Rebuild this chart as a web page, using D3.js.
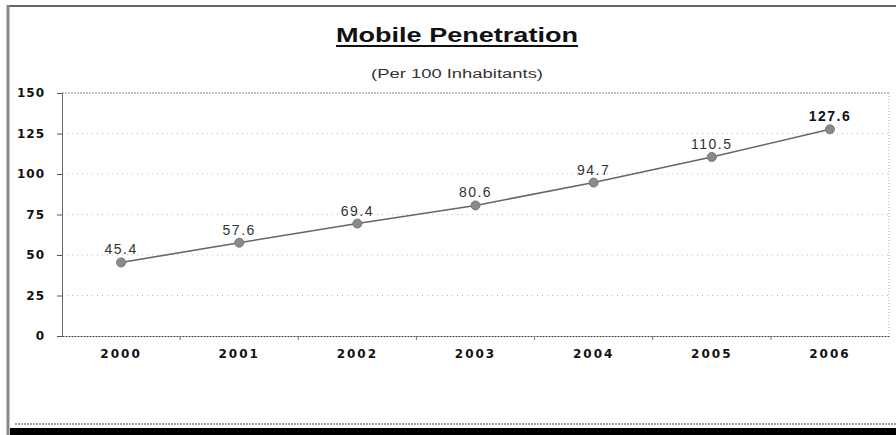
<!DOCTYPE html>
<html>
<head>
<meta charset="utf-8">
<script src="https://cdn.jsdelivr.net/npm/d3@7"></script>
<style>
  html, body { margin: 0; padding: 0; background: #fff; }
  svg { display: block; }
</style>
</head>
<body>
<svg id="chart" width="896" height="435"></svg>
<script>
// Mobile penetration per 100 inhabitants
const years = ["2000", "2001", "2002", "2003", "2004", "2005", "2006"];
const penetration = [45.4, 57.6, 69.4, 80.6, 94.7, 110.5, 127.6];
const yTicks = [0, 25, 50, 75, 100, 125, 150];
const titleText = "Mobile Penetration";
const subtitleText = "(Per 100 Inhabitants)";

const W = 896, H = 435;
const plot = { left: 62, right: 889, top: 93, bottom: 336 };
const sans = "Arial, 'Liberation Sans', sans-serif";
const wide = "'DejaVu Sans', Verdana, sans-serif";

const svg = d3.select("#chart");

// outer frame
svg.append("line").attr("x1", 8).attr("x2", W).attr("y1", 6).attr("y2", 6)
  .attr("stroke", "#333").attr("stroke-width", 1.5);
svg.append("line").attr("x1", 8).attr("x2", 8).attr("y1", 5).attr("y2", H)
  .attr("stroke", "#888").attr("stroke-width", 3);
svg.append("line").attr("x1", 15).attr("x2", W).attr("y1", 424).attr("y2", 424)
  .attr("stroke", "#444").attr("stroke-width", 1).attr("stroke-dasharray", "2,1");
svg.append("rect").attr("x", 10).attr("y", 428).attr("width", W - 10).attr("height", 7)
  .attr("fill", "#000");

// scales
const x = d3.scaleBand().domain(years).range([plot.left, plot.right]);
const y = d3.scaleLinear().domain([0, 150]).range([plot.bottom, plot.top]);

// gridlines
svg.append("g").selectAll("line").data(yTicks.filter(t => t > 0)).join("line")
  .attr("x1", plot.left).attr("x2", plot.right)
  .attr("y1", d => y(d)).attr("y2", d => y(d))
  .attr("stroke", d => d === 150 ? "#888" : "#bbb")
  .attr("stroke-width", 1)
  .attr("stroke-dasharray", d => d === 150 ? "2,1" : "1,4");

// right plot edge
svg.append("line").attr("x1", plot.right).attr("x2", plot.right)
  .attr("y1", plot.top).attr("y2", plot.bottom)
  .attr("stroke", "#aaa").attr("stroke-dasharray", "1,2");

// y axis
const yAxis = svg.append("g").attr("transform", `translate(${plot.left},0)`)
  .call(d3.axisLeft(y).tickValues(yTicks).tickSize(5).tickPadding(12));
yAxis.select(".domain").attr("stroke", "#666").attr("stroke-width", 1);
yAxis.selectAll(".tick line").attr("stroke", "#555");
yAxis.selectAll("text").attr("font-family", wide)
  .attr("font-size", 12).attr("font-weight", "bold").attr("fill", "#111")
  .attr("letter-spacing", 1);

// x axis with ticks at category boundaries
const xAxis = svg.append("g").attr("transform", `translate(0,${plot.bottom})`)
  .call(d3.axisBottom(x).tickSize(0).tickPadding(13));
xAxis.select(".domain").attr("stroke", "#444").attr("stroke-dasharray", "2,1");
xAxis.selectAll("text").attr("font-family", wide)
  .attr("font-size", 12).attr("font-weight", "bold").attr("fill", "#111")
  .attr("letter-spacing", 2);
xAxis.selectAll(".bound").data(years.slice(1)).join("line")
  .attr("class", "bound")
  .attr("x1", d => x(d)).attr("x2", d => x(d))
  .attr("y1", 0).attr("y2", 4).attr("stroke", "#777");

const cx = d => x(d) + x.bandwidth() / 2;

// series line
const line = d3.line().x((d, i) => cx(years[i])).y(d => y(d));
svg.append("path").datum(penetration)
  .attr("d", line).attr("fill", "none")
  .attr("stroke", "#666").attr("stroke-width", 1.6);

// markers
svg.append("g").selectAll("circle").data(penetration).join("circle")
  .attr("cx", (d, i) => cx(years[i])).attr("cy", d => y(d))
  .attr("r", 4.5).attr("fill", "#8a8a8a").attr("stroke", "#777");

// value labels
svg.append("g").selectAll("text").data(penetration).join("text")
  .attr("x", (d, i) => cx(years[i])).attr("y", d => y(d) - 8)
  .attr("text-anchor", "middle")
  .attr("font-family", sans)
  .attr("font-size", 14)
  .attr("letter-spacing", 1.5)
  .attr("fill", (d, i) => i === penetration.length - 1 ? "#111" : "#333")
  .attr("font-weight", (d, i) => i === penetration.length - 1 ? "bold" : "normal")
  .text(d => d.toFixed(1));

// titles
const titleX = 457;
const title = svg.append("text").attr("x", titleX).attr("y", 42)
  .attr("text-anchor", "middle")
  .attr("font-family", sans)
  .attr("font-size", 21).attr("font-weight", "bold").attr("fill", "#111")
  .attr("textLength", 242).attr("lengthAdjust", "spacingAndGlyphs")
  .text(titleText);
const tb = title.node().getBBox();
svg.append("line").attr("x1", tb.x).attr("x2", tb.x + tb.width)
  .attr("y1", 46).attr("y2", 46).attr("stroke", "#111").attr("stroke-width", 2);

svg.append("text").attr("x", titleX).attr("y", 78)
  .attr("text-anchor", "middle")
  .attr("font-family", sans)
  .attr("font-size", 12).attr("fill", "#333")
  .attr("textLength", 172).attr("lengthAdjust", "spacingAndGlyphs")
  .text(subtitleText);
</script>
</body>
</html>
